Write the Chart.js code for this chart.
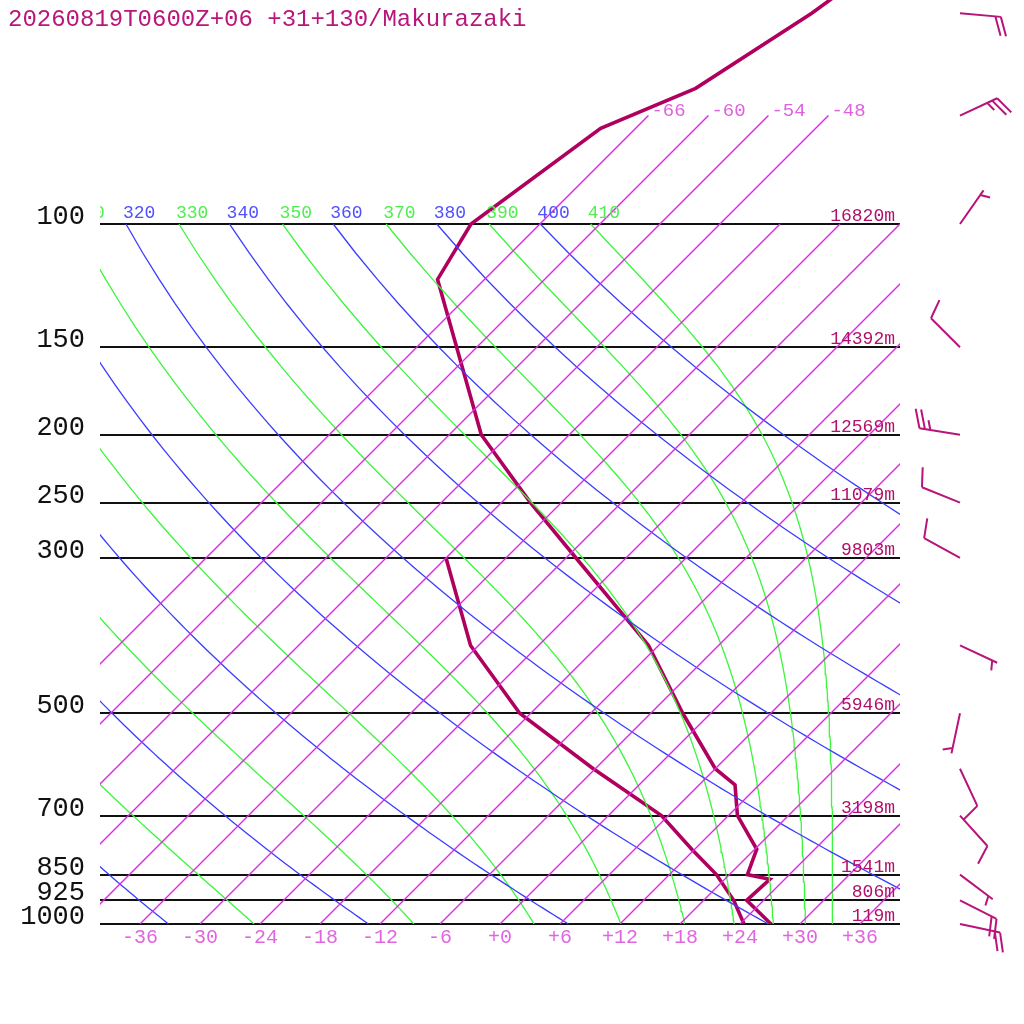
<!DOCTYPE html>
<html>
<head>
<meta charset="utf-8">
<script src="https://cdn.jsdelivr.net/npm/chart.js@4.4.1/dist/chart.umd.min.js"></script>
<style>
html, body { margin: 0; padding: 0; background: #fff; }
canvas { display: block; }
</style>
</head>
<body>
<canvas id="skewt" width="1024" height="1024"></canvas>
<script>
const title = '20260819T0600Z+06 +31+130/Makurazaki';

// sounding: temperature and dewpoint (hPa, degC)
const tempP = [1000, 925, 863, 850, 782, 700, 633, 600, 500, 400, 300, 250, 200, 120, 100, 73, 64, 50, 40];
const tempC = [27.1, 22.3, 22.5, 19.8, 18.2, 12.9, 9.6, 6.0, -2.8, -13.0, -29.0, -39.1, -50.8, -70.7, -72.9, -69.5, -64.0, -59.9, -57.4];
const dewP = [1000, 925, 850, 782, 700, 633, 600, 500, 400, 300];
const dewC = [24.4, 21.0, 16.7, 11.7, 5.3, -2.2, -6.2, -19.1, -30.8, -42.0];

// standard levels and heights
const levelP = [100, 150, 200, 250, 300, 500, 700, 850, 925, 1000];
const levelHgt = [16820, 14392, 12569, 11079, 9803, 5946, 3198, 1541, 806, 119];

// winds (direction deg, speed kt)
const windP = [50, 70, 100, 150, 200, 250, 300, 400, 500, 600, 700, 850, 925, 1000];
const windDir = [95, 65, 35, 315, 279, 292, 299, 115, 192, 155, 138, 127, 117, 102];
const windKt = [20, 25, 5, 10, 25, 10, 10, 5, 5, 10, 10, 5, 20, 20];

// diagram background
const tempTicks = [-36, -30, -24, -18, -12, -6, 0, 6, 12, 18, 24, 30, 36];
const isoTemps = [-66, -60, -54, -48, -42, -36, -30, -24, -18, -12, -6, 0, 6, 12, 18, 24, 30, 36];
const isoLabelTemps = [-66, -60, -54, -48];
const dryThetas = [240, 260, 280, 300, 320, 340, 360, 380, 400];
const moistThetas = [250, 270, 290, 310, 330, 350, 370, 390, 410];

const LINE = '#b0005e';
const ISO_COLOR = 'rgb(220, 40, 225)';
const DRY_COLOR = 'rgb(60, 60, 255)';
const MOIST_COLOR = 'rgb(60, 245, 60)';
const MONO = "'Liberation Mono', monospace";

const SKEW = 70; // degrees of skew per pressure decade
function skewX(t, p) { return t + SKEW * Math.log10(1000 / p); }
function profile(ps, ts) { return ps.map((p, i) => ({ x: skewX(ts[i], p), y: p })); }

const curveP = [];
for (let p = 1000; p >= 100; p -= 10) curveP.push(p);

function dryT(theta, p) { return theta * Math.pow(p / 1000, 0.2857) - 273.15; }

// Bolton theta-e for saturated air
function thetaE(tk, p) {
    const tc = tk - 273.15;
    const es = 6.112 * Math.exp(17.67 * tc / (tc + 243.5));
    if (p - es < 1) return 1e9;
    const r = 621.97 * es / (p - es);
    return tk * Math.pow(1000 / p, 0.2854 * (1 - 0.00028 * r)) *
        Math.exp((3.376 / tk - 0.00254) * r * (1 + 0.00081 * r));
}
function moistT(te, p) {
    let lo = 120, hi = 340;
    for (let i = 0; i < 50; i++) {
        const mid = (lo + hi) / 2;
        if (thetaE(mid, p) > te) hi = mid; else lo = mid;
    }
    return (lo + hi) / 2 - 273.15;
}

const datasets = [];
isoTemps.forEach(t => {
    const top = isoLabelTemps.includes(t) ? 70 : 100;
    datasets.push({
        label: 'T' + t,
        data: [{ x: skewX(t, 1000), y: 1000 }, { x: skewX(t, top), y: top }],
        borderColor: ISO_COLOR,
        backgroundColor: ISO_COLOR,
        borderWidth: 1.35
    });
});
dryThetas.forEach(th => {
    datasets.push({ label: 'th' + th, data: curveP.map(p => ({ x: skewX(dryT(th, p), p), y: p })), borderColor: DRY_COLOR, borderWidth: 1.3 });
});
moistThetas.forEach(te => {
    datasets.push({ label: 'te' + te, data: curveP.map(p => ({ x: skewX(moistT(te, p), p), y: p })), borderColor: MOIST_COLOR, borderWidth: 1.3 });
});
datasets.push({ label: 'dewpoint', data: profile(dewP, dewC), borderColor: LINE, borderWidth: 3.6 });
datasets.push({ label: 'temperature', data: profile(tempP, tempC), borderColor: LINE, borderWidth: 3.6 });
datasets.forEach(d => { d.pointRadius = 0; d.fill = false; d.clip = 0; });

const overlay = {
    id: 'overlay',
    afterDatasetsDraw(chart) {
        const ctx = chart.ctx;
        const xs = chart.scales.x, ys = chart.scales.y, area = chart.chartArea;
        ctx.save();
        ctx.textAlign = 'left';
        ctx.textBaseline = 'alphabetic';

        // adiabat labels along 100 hPa
        ctx.save();
        ctx.beginPath();
        ctx.rect(area.left, 0, area.right - area.left, area.bottom);
        ctx.clip();
        ctx.font = '18px ' + MONO;
        const y100 = ys.getPixelForValue(100) - 6;
        dryThetas.forEach(th => {
            ctx.fillStyle = '#5050ff';
            ctx.fillText(String(th), xs.getPixelForValue(skewX(dryT(th, 100), 100)) - 3, y100);
        });
        moistThetas.forEach(te => {
            ctx.fillStyle = '#50ee50';
            ctx.fillText(String(te), xs.getPixelForValue(skewX(moistT(te, 100), 100)) - 3, y100);
        });
        ctx.restore();

        // isotherm labels
        ctx.font = '19px ' + MONO;
        ctx.fillStyle = '#e060e0';
        isoLabelTemps.forEach(t => {
            ctx.fillText(String(t), xs.getPixelForValue(skewX(t, 70)) + 3, ys.getPixelForValue(70));
        });

        // heights
        ctx.font = '18px ' + MONO;
        ctx.fillStyle = '#b0106a';
        ctx.textAlign = 'right';
        levelP.forEach((p, i) => {
            ctx.fillText(levelHgt[i] + 'm', area.right - 5, ys.getPixelForValue(p) - 3);
        });

        // title
        ctx.textAlign = 'left';
        ctx.font = '24px ' + MONO;
        ctx.fillStyle = '#b8167a';
        ctx.fillText(title, 8, 26);

        // wind barbs
        ctx.strokeStyle = '#b8147a';
        ctx.lineWidth = 2;
        ctx.lineCap = 'butt';
        const bx = 960, shaft = 41, rot = 70 * Math.PI / 180;
        windP.forEach((p, i) => {
            const y0 = ys.getPixelForValue(p);
            const d = windDir[i] * Math.PI / 180;
            const ux = Math.sin(d), uy = -Math.cos(d);
            const vx = ux * Math.cos(rot) - uy * Math.sin(rot);
            const vy = ux * Math.sin(rot) + uy * Math.cos(rot);
            const tx = bx + shaft * ux, ty = y0 + shaft * uy;
            ctx.beginPath();
            ctx.moveTo(bx, y0);
            ctx.lineTo(tx, ty);
            const s = windKt[i];
            const n10 = Math.floor(s / 10);
            const n5 = Math.round((s % 10) / 5);
            let k = 0;
            for (; k < n10; k++) {
                const px = tx - k * 5.5 * ux, py = ty - k * 5.5 * uy;
                ctx.moveTo(px, py);
                ctx.lineTo(px + 20 * vx, py + 20 * vy);
            }
            if (n5) {
                if (k === 0) k = 1;
                const px = tx - k * 5.5 * ux, py = ty - k * 5.5 * uy;
                ctx.moveTo(px, py);
                ctx.lineTo(px + 10 * vx, py + 10 * vy);
            }
            ctx.stroke();
        });
        ctx.restore();
    }
};

new Chart(document.getElementById('skewt'), {
    type: 'line',
    data: { datasets },
    options: {
        responsive: false,
        animation: false,
        devicePixelRatio: 1,
        layout: { padding: { left: 0, right: 124, top: 0, bottom: 0 } },
        plugins: { legend: { display: false }, tooltip: { enabled: false }, title: { display: false } },
        elements: { line: { tension: 0 } },
        scales: {
            x: {
                type: 'linear',
                min: -40,
                max: 40,
                afterBuildTicks: s => { s.ticks = tempTicks.map(v => ({ value: v })); },
                afterFit: s => { s.height = 100; s.paddingLeft = 0; s.paddingRight = 0; s.paddingTop = 0; s.paddingBottom = 0; },
                grid: { display: false, drawTicks: false },
                border: { display: false },
                ticks: {
                    color: '#e066e0',
                    font: { family: MONO, size: 20 },
                    padding: 2,
                    maxRotation: 0,
                    autoSkip: false,
                    callback: v => (v >= 0 ? '+' : '') + v
                }
            },
            y: {
                type: 'logarithmic',
                reverse: true,
                min: 47.86,
                max: 1000,
                afterBuildTicks: s => { s.ticks = levelP.map(v => ({ value: v })); },
                afterFit: s => { s.width = 100; s.paddingLeft = 0; s.paddingRight = 0; s.paddingTop = 0; s.paddingBottom = 0; },
                grid: { color: '#111', lineWidth: 2, drawTicks: false },
                border: { display: false },
                ticks: {
                    color: '#111',
                    font: { family: MONO, size: 27 },
                    padding: 15,
                    labelOffset: -7,
                    autoSkip: false,
                    callback: v => String(v)
                }
            }
        }
    },
    plugins: [overlay]
});
</script>
</body>
</html>
